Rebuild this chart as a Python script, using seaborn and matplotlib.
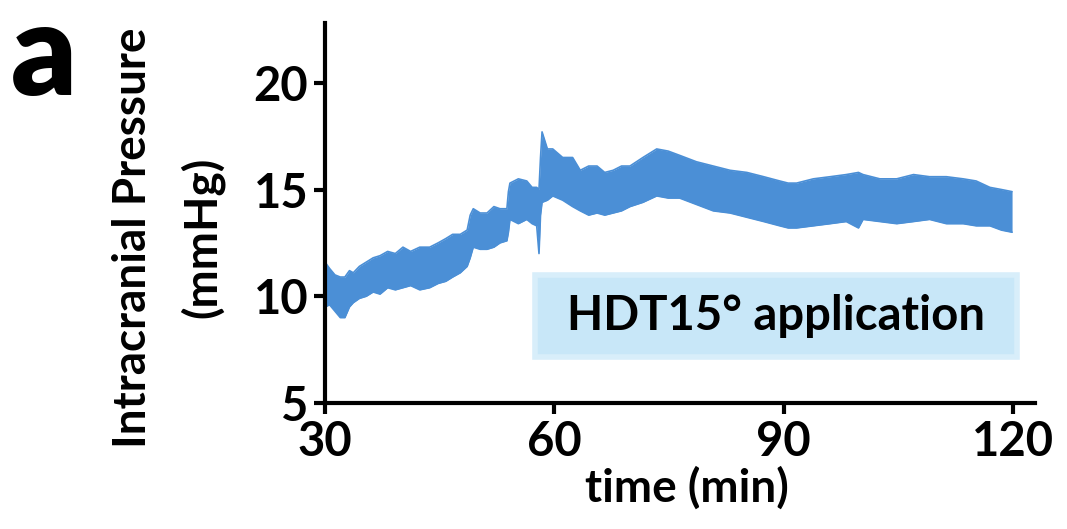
import numpy as np
import pandas as pd
import seaborn as sns
import matplotlib.pyplot as plt
from matplotlib.patches import Rectangle

# -----------------------------
# Data (envelope of the ICP trace)
# -----------------------------
time_min = [30.0, 30.6, 31.3, 32.0, 32.6, 33.2, 33.7, 34.5, 35.4, 36.3, 37.2, 38.2,
            39.2, 40.2, 41.2, 42.4, 43.7, 44.8, 45.8, 46.7, 47.7, 48.6, 49.0, 49.4,
            50.3, 51.2, 52.1, 52.9, 53.8, 54.0, 54.2, 55.3, 56.4, 57.1, 57.7, 58.0,
            58.2, 58.4, 59.1, 59.8, 61.1, 62.4, 63.4, 64.5, 65.6, 66.6, 67.7, 68.8,
            69.9, 71.6, 73.4, 74.9, 76.4, 78.6, 80.8, 83.0, 85.2, 87.4, 89.5, 90.6,
            91.7, 93.9, 96.1, 98.2, 99.8, 100.4, 102.6, 104.8, 107.0, 109.1, 111.3,
            113.5, 115.2, 117.0, 118.5, 119.9]
icp_high = [11.6, 11.3, 11.0, 10.9, 10.9, 11.2, 11.1, 11.4, 11.6, 11.8, 11.9, 12.1,
            12.0, 12.3, 12.1, 12.3, 12.3, 12.5, 12.7, 12.9, 12.9, 13.1, 13.8, 14.1,
            13.9, 13.9, 14.2, 14.1, 14.1, 14.9, 15.3, 15.5, 15.4, 15.1, 15.1, 15.0,
            16.5, 17.7, 16.9, 16.9, 16.5, 16.5, 15.9, 16.1, 16.1, 15.8, 15.9, 16.1,
            16.1, 16.5, 16.9, 16.8, 16.6, 16.3, 16.1, 15.9, 15.8, 15.6, 15.4, 15.3,
            15.3, 15.5, 15.6, 15.7, 15.8, 15.7, 15.5, 15.5, 15.7, 15.6, 15.6,
            15.5, 15.4, 15.1, 15.0, 14.9]
icp_low = [9.5, 9.6, 9.3, 9.0, 9.0, 9.5, 9.7, 9.9, 10.0, 10.2, 10.1, 10.4,
           10.3, 10.4, 10.5, 10.3, 10.4, 10.6, 10.7, 10.9, 11.1, 11.4, 11.8, 12.3,
           12.2, 12.2, 12.3, 12.5, 12.6, 13.0, 13.6, 13.4, 13.6, 13.4, 13.3, 12.0,
           13.8, 14.4, 14.5, 14.7, 14.5, 14.2, 14.0, 13.8, 13.9, 13.8, 13.9, 14.0,
           14.2, 14.4, 14.7, 14.6, 14.6, 14.3, 14.0, 13.9, 13.7, 13.5, 13.3, 13.2,
           13.2, 13.3, 13.4, 13.5, 13.2, 13.6, 13.5, 13.4, 13.5, 13.6, 13.4,
           13.4, 13.3, 13.3, 13.1, 13.0]

hdt_start, hdt_end = 57.5, 120.5
hdt_low, hdt_high = 7.15, 11.0

x_ticks = [30, 60, 90, 120]
y_ticks = [5, 10, 15, 20]

df = pd.DataFrame({"time": time_min, "high": icp_high, "low": icp_low})

# -----------------------------
# Plot
# -----------------------------
sns.set_style("ticks")
plt.rcParams['font.family'] = ['Lato', 'DejaVu Sans']
plt.rcParams['font.weight'] = 'bold'
plt.rcParams['text.color'] = 'black'
plt.rcParams['xtick.color'] = 'black'
plt.rcParams['ytick.color'] = 'black'

blue = "#4b8fd6"
fig = plt.figure(figsize=(10.67, 5.29), dpi=100)
ax = fig.add_axes([325 / 1067, 1 - 403 / 529, (1035 - 325) / 1067, (403 - 23) / 529])

# HDT application box
ax.add_patch(Rectangle((hdt_start, hdt_low), hdt_end - hdt_start, hdt_high - hdt_low,
                       facecolor="#c8e7f8", edgecolor="#d8eefa", linewidth=4, zorder=1))
ax.text((hdt_start + hdt_end) / 2, (hdt_low + hdt_high) / 2, "HDT15\u00b0 application",
        ha="center", va="center", fontsize=34, fontweight="bold", color="black", zorder=3)

# ICP trace band
ax.fill_between(df["time"], df["low"], df["high"], color=blue, linewidth=0, zorder=2)
sns.lineplot(x="time", y="high", data=df, ax=ax, color=blue, linewidth=1.2, zorder=2)
sns.lineplot(x="time", y="low", data=df, ax=ax, color=blue, linewidth=1.2, zorder=2)

ax.set_xlim(30, 122.9)
ax.set_ylim(5, 22.8)
ax.set_xticks(x_ticks)
ax.set_yticks(y_ticks)
ax.set_xlabel("")
ax.set_ylabel("")
for s in ["top", "right"]:
    ax.spines[s].set_visible(False)
for s in ["left", "bottom"]:
    ax.spines[s].set_linewidth(3)
    ax.spines[s].set_color("black")
ax.tick_params(axis="both", width=3, length=8, labelsize=34, color="black",
               labelcolor="black", pad=4)
for lab in ax.get_xticklabels() + ax.get_yticklabels():
    lab.set_fontweight("bold")

fig.text(687 / 1067, 1 - 488 / 529, "time (min)", ha="center", va="center",
         fontsize=33, fontweight="bold")
fig.text(133 / 1067, 1 - 238 / 529, "Intracranial Pressure", ha="center", va="center",
         rotation=90, fontsize=33, fontweight="bold")
fig.text(202 / 1067, 1 - 237 / 529, "(mmHg)", ha="center", va="center",
         rotation=90, fontsize=33, fontweight="bold")
fig.text(44 / 1067, 1 - 57 / 529, "a", ha="center", va="center",
         fontsize=92, fontweight="heavy")

plt.savefig("out.png", dpi=100)
plt.close()
